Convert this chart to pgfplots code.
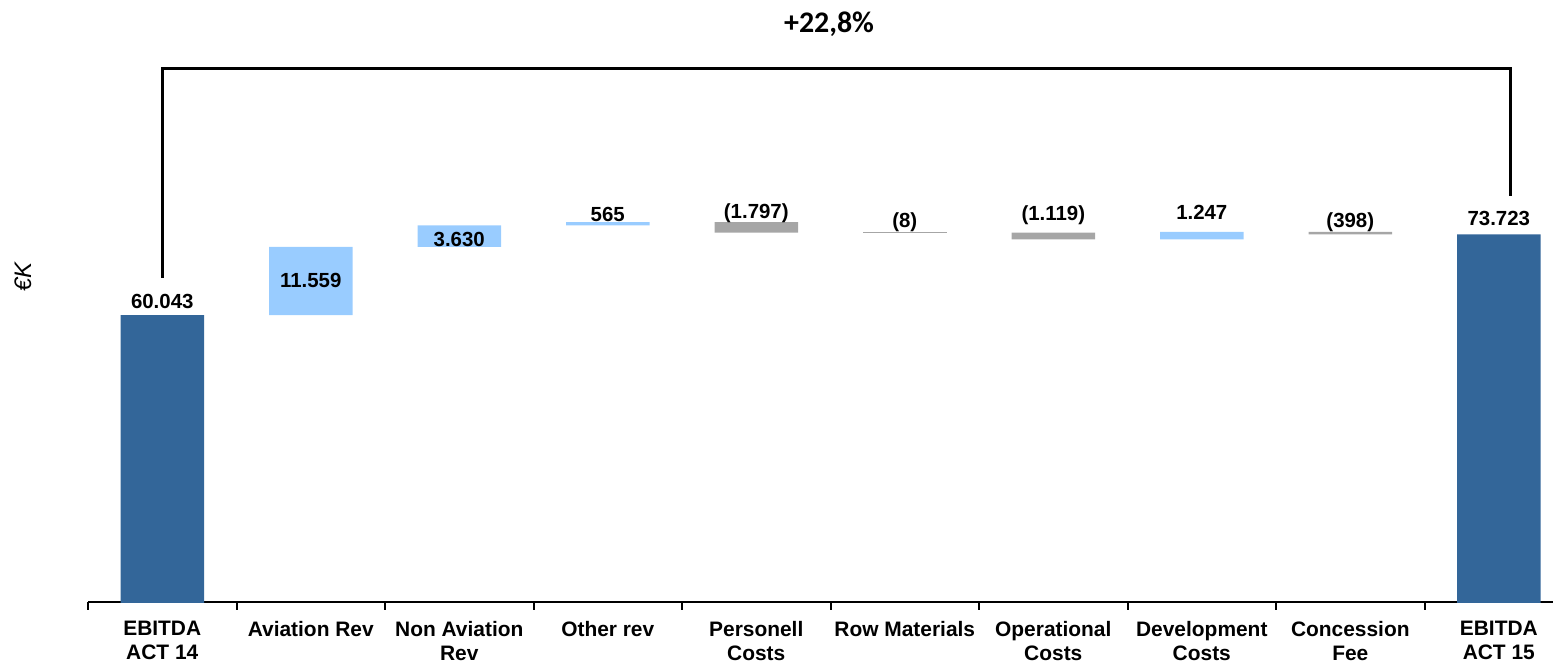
\documentclass[border=0pt]{standalone}
\usepackage{pgfplots}
\pgfplotsset{compat=1.18}
\usepackage{pgfplotstable}
\usepackage{fontspec}
\setmainfont{Liberation Sans}
\newfontfamily\titlefont{Carlito}

\definecolor{actblue}{HTML}{336699}
\definecolor{upblue}{HTML}{99CCFF}
\definecolor{downgray}{HTML}{A6A6A6}

% EBITDA bridge: invisible base + visible step for each category
\pgfplotstableread{
x base act up down
0 0 60043 0 0
1 60043 0 11559 0
2 71602 0 3630 0
3 75232 0 565 0
4 74000 0 0 1797
5 73992 0 0 8
6 72873 0 0 1119
7 72873 0 1247 0
8 73722 0 0 398
9 0 73723 0 0
}\bridge

\pgfplotsset{
  bridgeaxis/.style={
    scale only axis, width=1465bp, height=602bp,
    xmin=-0.5, xmax=9.365, ymin=11400, ymax=113440,
    at={(0,0)}, anchor=south west,
  },
}
\tikzset{vlab/.style={font=\bfseries\fontsize{20.5}{24}\selectfont, inner sep=0pt, anchor=base}}

\begin{document}
\begin{tikzpicture}
\path[use as bounding box] (-88bp,-60bp) rectangle (1465bp,602bp);

\begin{axis}[
  bridgeaxis, clip=true,
  ybar stacked, bar width=83.5bp,
  axis x line*=bottom, axis y line=none,
  x axis line style={line width=2bp, black},
  xtick={0,...,9},
  xticklabels={{EBITDA\\ACT 14},{Aviation Rev},{Non Aviation\\Rev},{Other rev},{Personell\\Costs},{Row Materials},{Operational\\Costs},{Development\\Costs},{Concession\\Fee},{EBITDA\\ACT 15}},
  xticklabel style={align=center, font=\bfseries\fontsize{21}{24}\selectfont, yshift=-16bp},
  major tick length=0pt,
  minor xtick={-0.5,0.5,...,8.5},
  minor tick length=8bp,
  minor tick style={line width=2bp, black},
  tick align=outside,
]
\addplot[fill=none, draw=none] table[x=x, y=base] {\bridge};
\addplot[fill=actblue, draw=none] table[x=x, y=act] {\bridge};
\addplot[fill=upblue, draw=none] table[x=x, y=up] {\bridge};
\addplot[fill=downgray, draw=none] table[x=x, y=down] {\bridge};
\end{axis}

\begin{axis}[bridgeaxis, hide axis, clip=false]
% growth bracket between the two EBITDA totals
\addplot[black, line width=3bp, line join=miter] coordinates {(0,66320) (0,101830) (9.077,101830) (9.077,80220)};
% the small Row Materials step as a hairline
\addplot[downgray, line width=1bp] coordinates {(4.7188,73996) (5.2812,73996)};

% value labels
\node[vlab, yshift=7bp] at (axis cs:0,60043) {60.043};
\node[vlab, anchor=center] at (axis cs:1,65822) {11.559};
\node[vlab, yshift=0.5bp] at (axis cs:2,71602) {3.630};
\node[vlab, yshift=1bp] at (axis cs:3,75797) {565};
\node[vlab, yshift=4bp] at (axis cs:4,75797) {(1.797)};
\node[vlab, yshift=4.7bp] at (axis cs:5,74000) {(8)};
\node[vlab, yshift=12.7bp] at (axis cs:6,73992) {(1.119)};
\node[vlab, yshift=12bp] at (axis cs:7,74120) {1.247};
\node[vlab, yshift=4bp] at (axis cs:8,74120) {(398)};
\node[vlab, yshift=9bp] at (axis cs:9,73723) {73.723};

\node[font=\titlefont\bfseries\fontsize{30}{32}\selectfont, anchor=base, inner sep=0pt] at (axis cs:4.49,107847) {+22,8\%};
\end{axis}

\node[rotate=90, font=\itshape\fontsize{24}{28}\selectfont] at (-65bp,325bp) {€K};
\end{tikzpicture}
\end{document}
